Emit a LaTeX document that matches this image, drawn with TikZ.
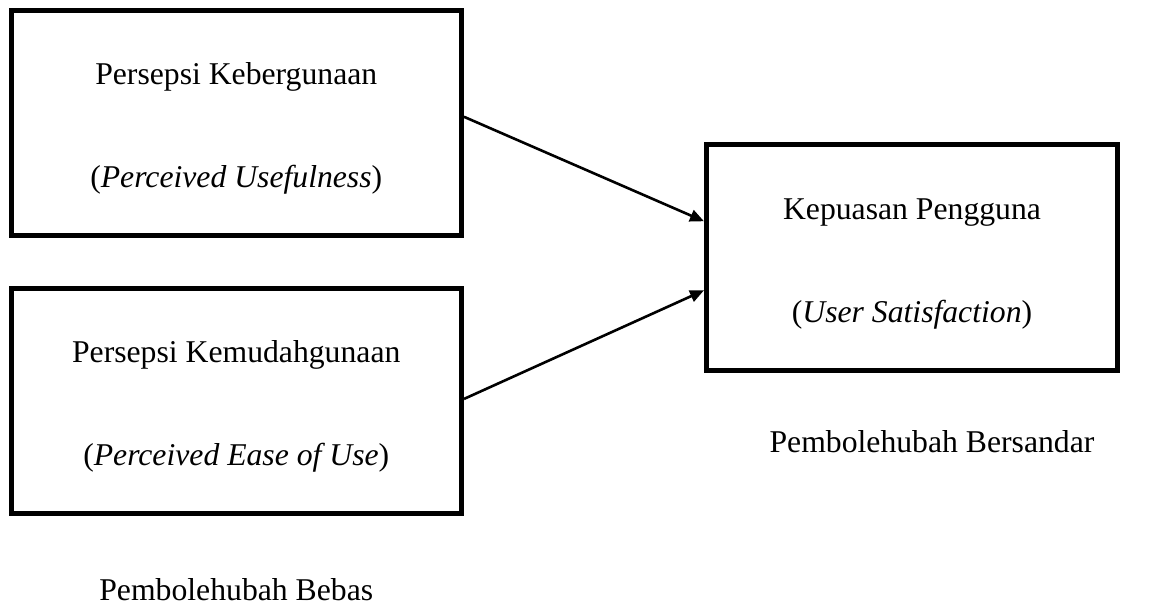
\documentclass[tikz,border=0pt]{standalone}
\usepackage{fontspec}
\setmainfont{Liberation Serif}
\usetikzlibrary{arrows.meta,calc}
\begin{document}
\begin{tikzpicture}[x=0.5pt,y=-0.5pt,
  box/.style={draw,line width=2.5pt,minimum height=112.75pt,inner sep=0pt},
  txt/.style={font=\fontsize{15.85}{19}\selectfont,anchor=base,inner sep=0pt},
  link/.style={line width=1.3pt,-{Triangle[length=7pt,width=6pt]}}]
\useasboundingbox (0,0) rectangle (1157,608);
% independent variables
\node[box,minimum width=225.25pt] (pu) at (236.25,123.25) {};
\node[box,minimum width=225.25pt] (peou) at (236.25,401.25) {};
% dependent variable
\node[box,minimum width=205.5pt,minimum height=113pt] (us) at (912,258) {};
% box texts
\node[txt] (pu1) at (236.25,85) {Persepsi Kebergunaan};
\node[txt] (pu2) at (236.25,188) {(\textit{Perceived Usefulness})};
\node[txt] (pe1) at (236.25,363) {Persepsi Kemudahgunaan};
\node[txt] (pe2) at (236.25,466) {(\textit{Perceived Ease of Use})};
\node[txt] (us1) at (912,220) {Kepuasan Pengguna};
\node[txt] (us2) at (912,323) {(\textit{User Satisfaction})};
% variable labels
\node[txt] (dep) at (932,453) {Pembolehubah Bersandar};
\node[txt] (ind) at (236.25,601) {Pembolehubah Bebas};
% relations
\draw[link] ($(pu.north east)!0.472!(pu.south east)$) -- ($(us.north west)!0.341!(us.south west)$);
\draw[link] ($(peou.north east)!0.49!(peou.south east)$) -- ($(us.north west)!0.64!(us.south west)$);
\end{tikzpicture}
\end{document}
